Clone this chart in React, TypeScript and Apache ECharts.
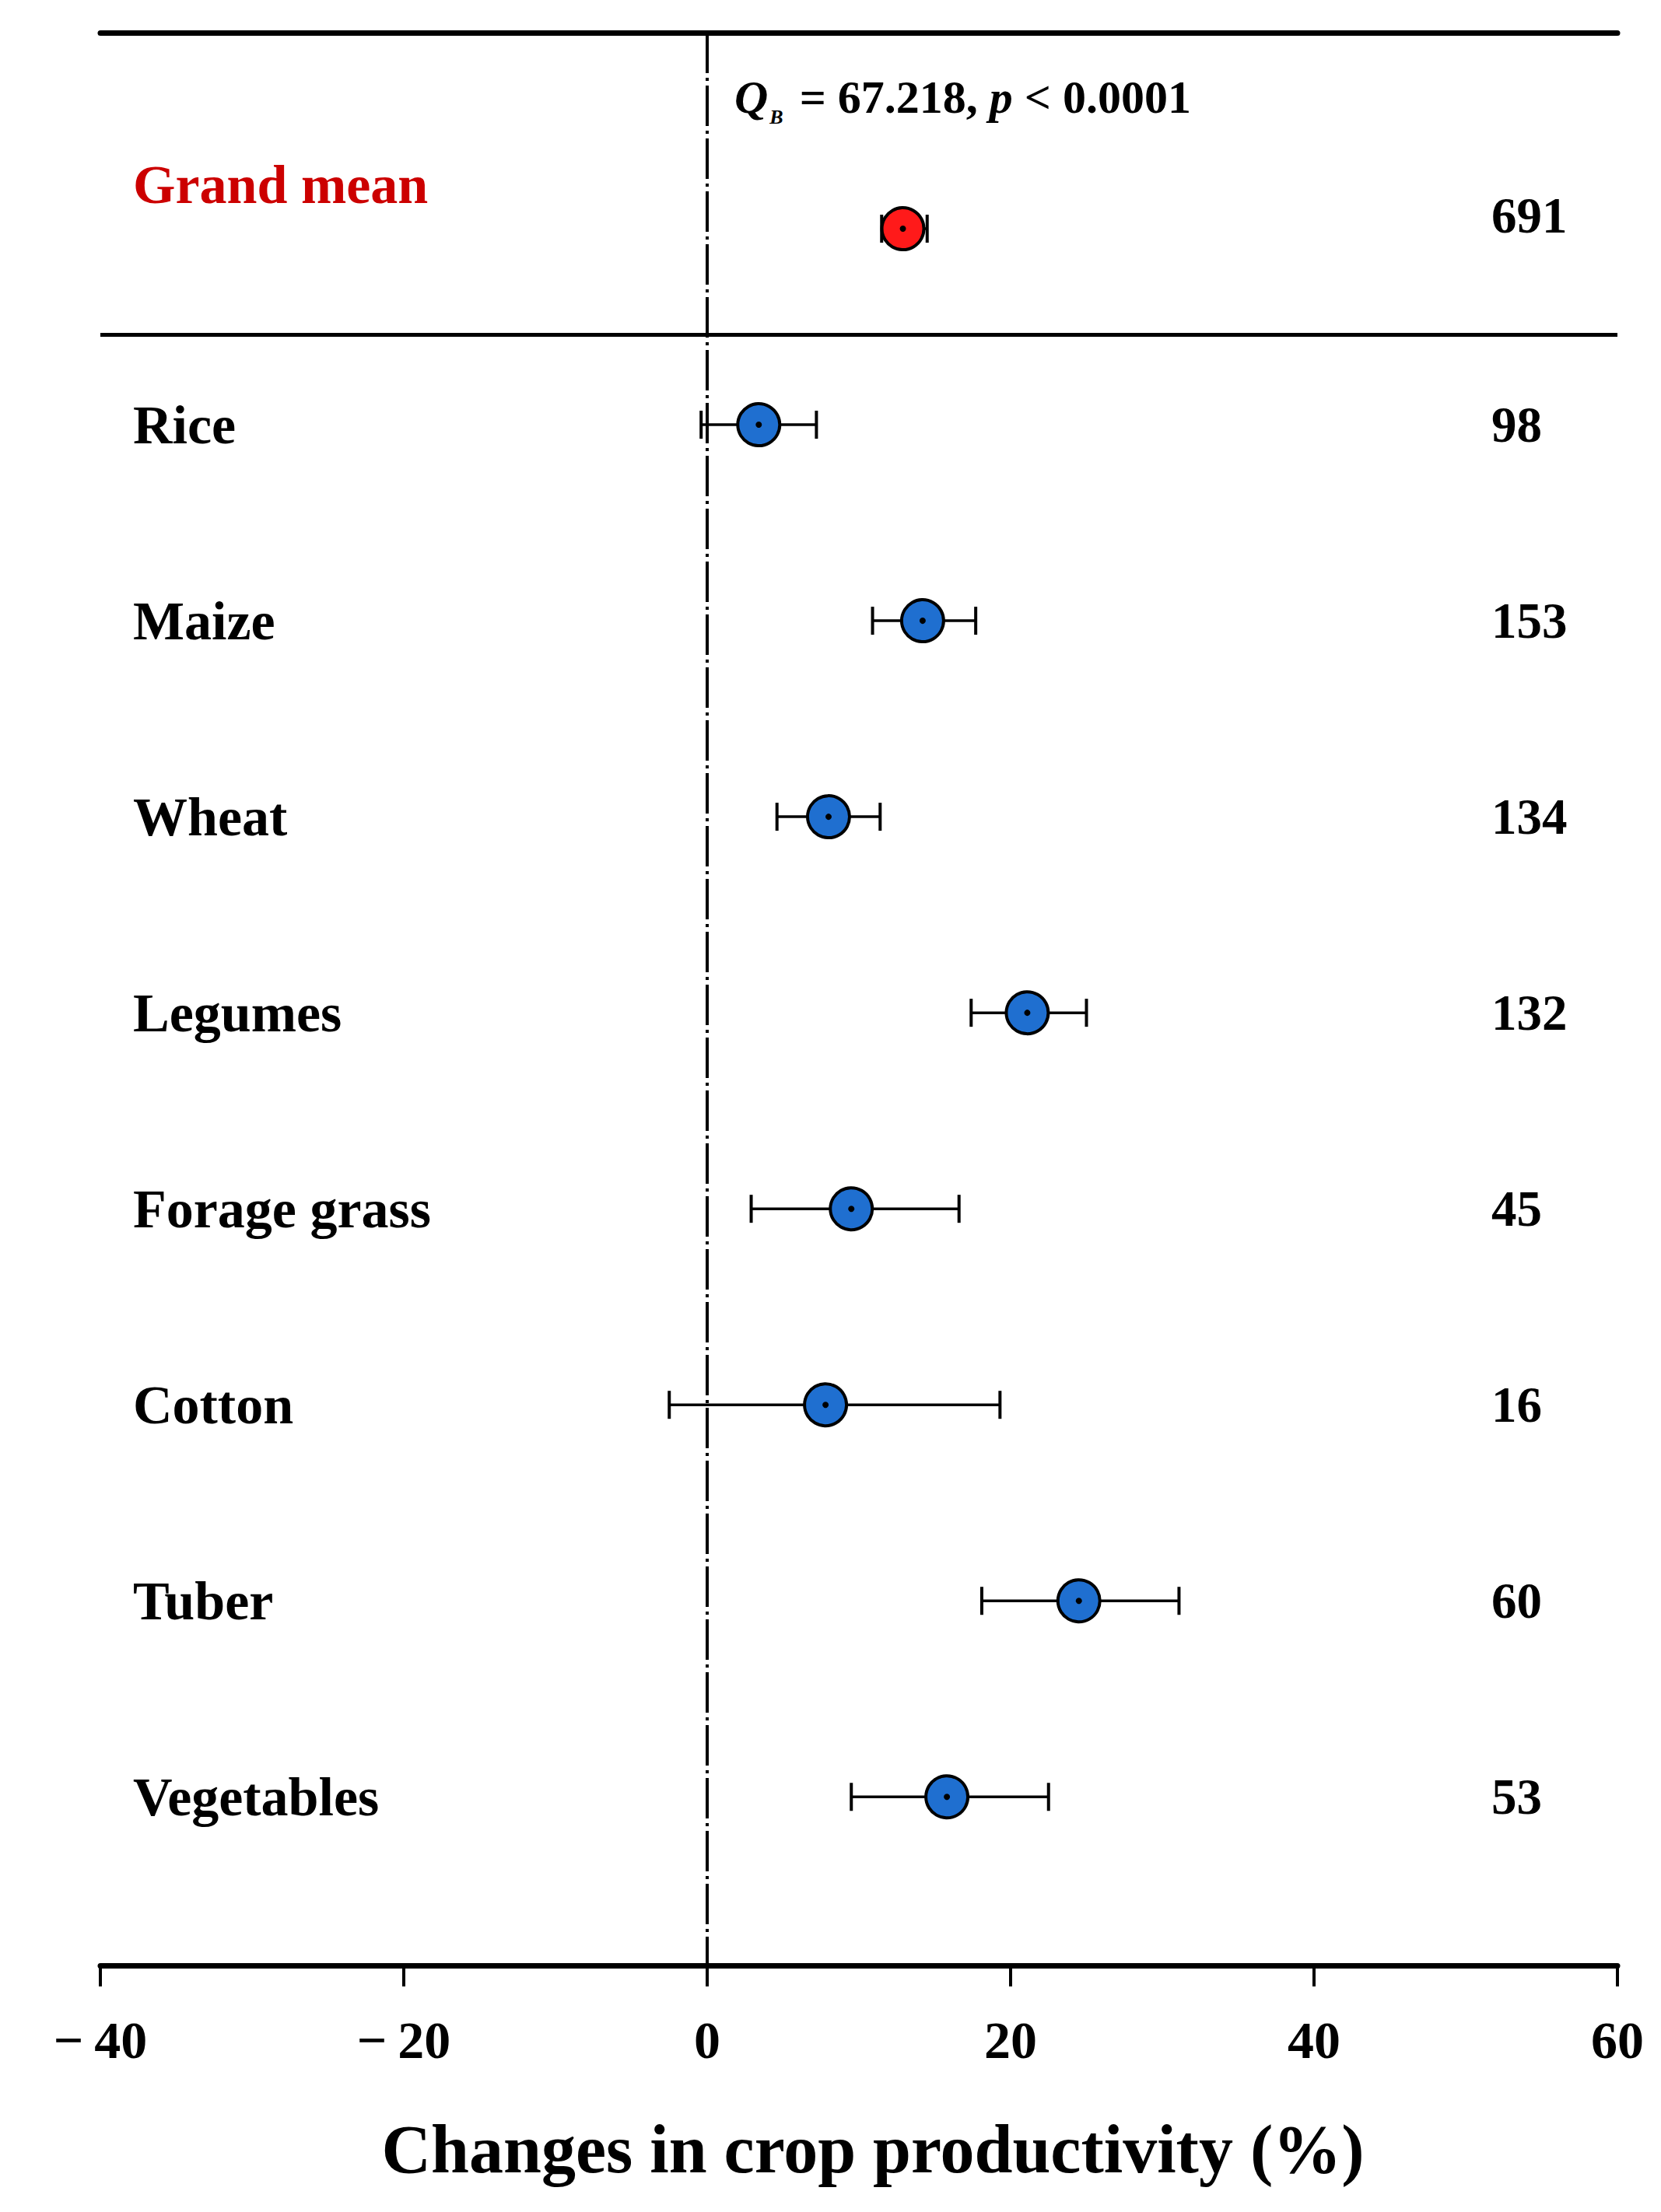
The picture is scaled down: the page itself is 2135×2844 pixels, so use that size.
import React, { useEffect, useRef } from "react";
import * as echarts from "echarts";

const categories = ["Grand mean", "Rice", "Maize", "Wheat", "Legumes", "Forage grass", "Cotton", "Tuber", "Vegetables"];
const means = [12.9, 3.4, 14.2, 8.0, 21.1, 9.5, 7.8, 24.5, 15.8];
const lows = [11.5, -0.4, 10.9, 4.6, 17.4, 2.9, -2.5, 18.1, 9.5];
const highs = [14.5, 7.2, 17.7, 11.4, 25.0, 16.6, 19.3, 31.1, 22.5];
const counts = [691, 98, 153, 134, 132, 45, 16, 60, 53];
const xTicks = [-40, -20, 0, 20, 40, 60];
const statText = { q: "Q", sub: "B", value: "67.218", p: "p", pval: "0.0001" };

const FONT = "'Liberation Serif', 'Times New Roman', serif";

export default function App() {
  const ref = useRef<HTMLDivElement>(null);
  useEffect(() => {
    document.body.style.margin = "0";
    if (!ref.current) return;
    const chart = echarts.init(ref.current, undefined, { renderer: "svg" });
    const rows = categories.map((_, i) => i);
    const errData = rows.map((r) => [r, lows[r], highs[r]]);
    const blueData = rows.slice(1).map((r) => [means[r], r]);
    const redData = [[means[0], 0]];
    const dotData = rows.map((r) => [means[r], r]);
    const labelData = rows.map((r) => [r]);

    const option: any = {
      animation: false,
      backgroundColor: "#ffffff",
      grid: { left: 129, right: 56, top: 42, bottom: 317 },
      xAxis: [
        {
          type: "value",
          min: xTicks[0],
          max: xTicks[xTicks.length - 1],
          interval: 20,
          position: "bottom",
          splitLine: { show: false },
          axisLine: { show: true, onZero: false, lineStyle: { color: "#000", width: 7 } },
          axisTick: { show: true, length: 27, lineStyle: { color: "#000", width: 4 } },
          axisLabel: {
            margin: 62,
            fontFamily: FONT,
            fontWeight: "bold",
            fontSize: 68,
            color: "#000",
            formatter: (v: number) => (v < 0 ? "\u2212\u2009" + Math.abs(v) : String(v)),
          },
          name: "Changes in crop productivity (%)",
          nameLocation: "middle",
          nameGap: 192,
          nameTextStyle: { fontFamily: FONT, fontWeight: "bold", fontSize: 88, color: "#000", padding: [0, 0, 0, 36] },
        },
        {
          type: "value",
          min: xTicks[0],
          max: xTicks[xTicks.length - 1],
          position: "top",
          splitLine: { show: false },
          axisLine: { show: true, onZero: false, lineStyle: { color: "#000", width: 7 } },
          axisTick: { show: false },
          axisLabel: { show: false },
        },
      ],
      yAxis: {
        type: "value",
        min: -1,
        max: 8.86,
        inverse: true,
        show: false,
        splitLine: { show: false },
      },
      graphic: [
        {
          type: "text",
          left: 944,
          top: 133 - 38,
          style: {
            text: `{q|${statText.q}}{sub|${statText.sub}}{n| = ${statText.value}, }{p|${statText.p}}{n| < ${statText.pval}}`,
            rich: {
              q: { fontFamily: FONT, fontStyle: "italic", fontWeight: "bold", fontSize: 60, fill: "#000", lineHeight: 76 },
              sub: { fontFamily: FONT, fontStyle: "italic", fontWeight: "bold", fontSize: 26, fill: "#000", verticalAlign: "bottom", padding: [22, 6, 0, 2], lineHeight: 76 },
              p: { fontFamily: FONT, fontStyle: "italic", fontWeight: "bold", fontSize: 60, fill: "#000", lineHeight: 76 },
              n: { fontFamily: FONT, fontWeight: "bold", fontSize: 60, fill: "#000", lineHeight: 76 },
            },
          },
        },
      ],
      series: [
        {
          type: "custom",
          name: "errorbars",
          coordinateSystem: "cartesian2d",
          data: errData,
          encode: { x: [1, 2], y: 0 },
          z: 2,
          renderItem: (params: any, api: any) => {
            const y = api.value(0);
            const p1 = api.coord([api.value(1), y]);
            const p2 = api.coord([api.value(2), y]);
            const cap = 18;
            const st = { stroke: "#000", lineWidth: 3.5 };
            return {
              type: "group",
              children: [
                { type: "line", shape: { x1: p1[0], y1: p1[1], x2: p2[0], y2: p2[1] }, style: st },
                { type: "line", shape: { x1: p1[0], y1: p1[1] - cap, x2: p1[0], y2: p1[1] + cap }, style: { stroke: "#000", lineWidth: 4 } },
                { type: "line", shape: { x1: p2[0], y1: p2[1] - cap, x2: p2[0], y2: p2[1] + cap }, style: { stroke: "#000", lineWidth: 4 } },
              ],
            };
          },
          markLine: {
            silent: true,
            symbol: "none",
            label: { show: false },
            data: [
              { xAxis: 0, lineStyle: { color: "#000", width: 4, type: [52, 6, 4, 6] } },
              { yAxis: 0.536, lineStyle: { color: "#000", width: 5, type: "solid" } },
            ],
          },
        },
        {
          type: "scatter",
          name: "crops",
          data: blueData,
          symbol: "circle",
          symbolSize: 54,
          z: 3,
          itemStyle: { color: "#1f6fd0", borderColor: "#000", borderWidth: 4, opacity: 1 },
        },
        {
          type: "scatter",
          name: "grand",
          data: redData,
          symbol: "circle",
          symbolSize: 54,
          z: 3,
          itemStyle: { color: "#ff1a1a", borderColor: "#000", borderWidth: 4, opacity: 1 },
        },
        {
          type: "scatter",
          name: "dots",
          data: dotData,
          symbol: "circle",
          symbolSize: 8,
          z: 4,
          itemStyle: { color: "#000", opacity: 1 },
        },
        {
          type: "custom",
          name: "labels",
          coordinateSystem: "cartesian2d",
          data: labelData,
          encode: { y: 0 },
          z: 5,
          renderItem: (params: any, api: any) => {
            const r = api.value(0);
            const i = params.dataIndex;
            const left = api.coord([xTicks[0], r]);
            const right = api.coord([xTicks[xTicks.length - 1], r]);
            const isGrand = i === 0;
            return {
              type: "group",
              children: [
                {
                  type: "text",
                  x: left[0] + 42,
                  y: left[1] + (isGrand ? -57 : 0),
                  style: {
                    text: categories[i],
                    fontFamily: FONT,
                    fontWeight: "bold",
                    fontSize: 70,
                    fill: isGrand ? "#cc0000" : "#000",
                    textAlign: "left",
                    textVerticalAlign: "middle",
                  },
                },
                {
                  type: "text",
                  x: right[0] - 162,
                  y: right[1] + (isGrand ? -17 : 0),
                  style: {
                    text: String(counts[i]),
                    fontFamily: FONT,
                    fontWeight: "bold",
                    fontSize: 65,
                    fill: "#000",
                    textAlign: "left",
                    textVerticalAlign: "middle",
                  },
                },
              ],
            };
          },
        },
      ],
    };
    chart.setOption(option);
    return () => chart.dispose();
  }, []);
  return <div ref={ref} style={{ width: 2135, height: 2844 }} />;
}
